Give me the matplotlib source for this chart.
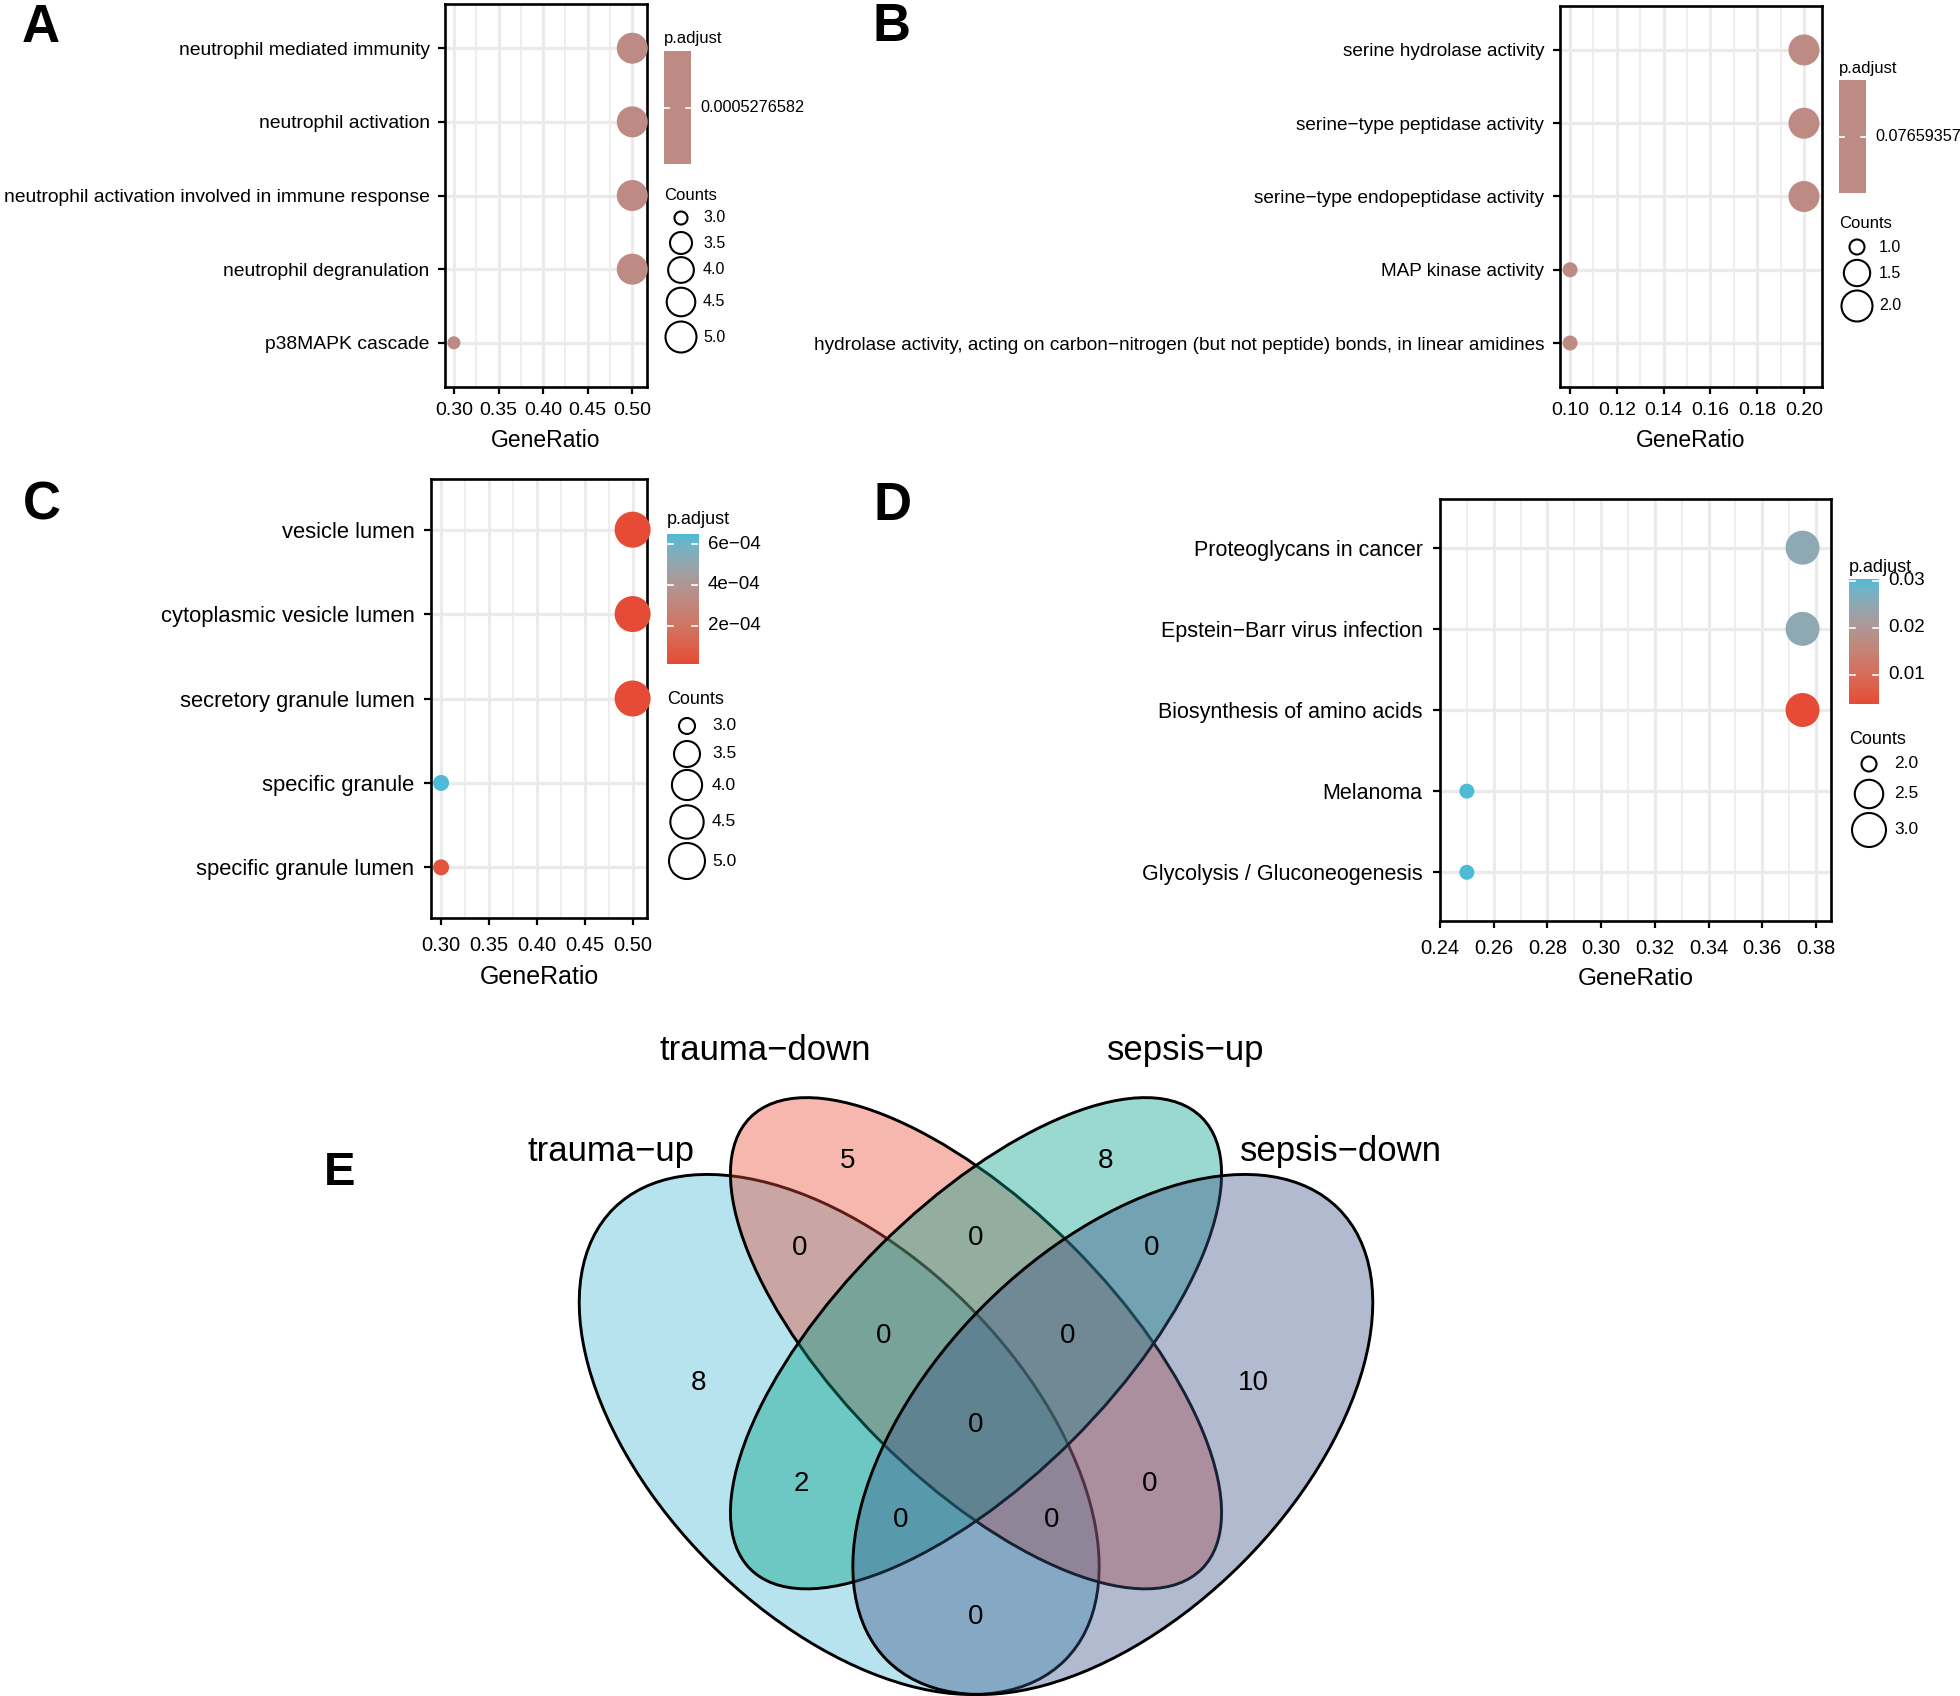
import numpy as np
import matplotlib
matplotlib.use("Agg")
import matplotlib.pyplot as plt
from matplotlib.patches import Ellipse, Rectangle
from matplotlib.colors import ListedColormap, to_rgb

plt.rcParams['font.family'] = ['Liberation Sans', 'DejaVu Sans']

W, H = 1960, 1696
DPI = 100
MINUS = "\u2212"

# ---------------- data ----------------
a_terms = ["neutrophil mediated immunity", "neutrophil activation",
           "neutrophil activation involved in immune response",
           "neutrophil degranulation", "p38MAPK cascade"]
a_ratio = [0.5, 0.5, 0.5, 0.5, 0.3]
a_count = [5, 5, 5, 5, 3]
a_padj = [0.0005276582] * 5

b_terms = ["serine hydrolase activity", "serine" + MINUS + "type peptidase activity",
           "serine" + MINUS + "type endopeptidase activity", "MAP kinase activity",
           "hydrolase activity, acting on carbon" + MINUS + "nitrogen (but not peptide) bonds, in linear amidines"]
b_ratio = [0.2, 0.2, 0.2, 0.1, 0.1]
b_count = [2, 2, 2, 1, 1]
b_padj = [0.07659357] * 5

c_terms = ["vesicle lumen", "cytoplasmic vesicle lumen", "secretory granule lumen",
           "specific granule", "specific granule lumen"]
c_ratio = [0.5, 0.5, 0.5, 0.3, 0.3]
c_count = [5, 5, 5, 3, 3]
c_padj = [1.2e-5, 1.2e-5, 1.3e-5, 6.5e-4, 4.5e-5]

d_terms = ["Proteoglycans in cancer", "Epstein" + MINUS + "Barr virus infection",
           "Biosynthesis of amino acids", "Melanoma", "Glycolysis / Gluconeogenesis"]
d_ratio = [0.375, 0.375, 0.375, 0.25, 0.25]
d_count = [3, 3, 3, 2, 2]
d_padj = [0.0252, 0.0252, 0.0038, 0.0304, 0.0304]

venn_sets = ["trauma" + MINUS + "up", "trauma" + MINUS + "down",
             "sepsis" + MINUS + "up", "sepsis" + MINUS + "down"]
venn_colors = ["#4DBBD5", "#E64B35", "#00A087", "#3C5488"]
# region counts, same order as venn_label_pos
venn_counts = [5, 8, 8, 10, 0, 0, 0, 0, 0, 0, 2, 0, 0, 0, 0]

# ---------------- colour scale (Lab interpolation like ggplot) ----------------
M = np.array([[0.4124564, 0.3575761, 0.1804375],
              [0.2126729, 0.7151522, 0.0721750],
              [0.0193339, 0.1191920, 0.9503041]])
WHITE = np.array([0.95047, 1.0, 1.08883])


def to_lab(c):
    c = np.asarray(to_rgb(c))
    lin = np.where(c <= 0.04045, c / 12.92, ((c + 0.055) / 1.055) ** 2.4)
    xyz = M @ lin / WHITE
    f = np.where(xyz > 0.008856, np.cbrt(xyz), 7.787 * xyz + 16 / 116)
    return np.array([116 * f[1] - 16, 500 * (f[0] - f[1]), 200 * (f[1] - f[2])])


def from_lab(lab):
    L, a, b = lab
    fy = (L + 16) / 116
    f = np.array([fy + a / 500, fy, fy - b / 200])
    xyz = np.where(f ** 3 > 0.008856, f ** 3, (f - 16 / 116) / 7.787) * WHITE
    lin = np.linalg.inv(M) @ xyz
    lin = np.clip(lin, 0, None)
    c = np.where(lin <= 0.0031308, 12.92 * lin, 1.055 * lin ** (1 / 2.4) - 0.055)
    return np.clip(c, 0, 1)


lo, hi = to_lab("#E64B35"), to_lab("#4DBBD5")
cmap = ListedColormap([from_lab(lo + t * (hi - lo)) for t in np.linspace(0, 1, 256)])

fig = plt.figure(figsize=(W / DPI, H / DPI), dpi=DPI)
over = fig.add_axes([0, 0, 1, 1])
over.set_xlim(0, W)
over.set_ylim(H, 0)
over.axis('off')
over.set_zorder(5)


def px2pt(d):
    return d * 72.0 / DPI


def size_of(v, vmin, vmax, dmin, dmax):
    t = 0.0 if vmax == vmin else (np.asarray(v, float) - vmin) / (vmax - vmin)
    d = dmin + np.sqrt(t) * (dmax - dmin)
    return px2pt(d) ** 2


def dotplot(box, terms, ratio, count, padj, xlim, xticks, xminor, dmin, dmax,
            fs_y, fs_x, fs_lab, pads, leg, size_breaks, cbar_ticks, cbar_labels):
    l, t, r, b = box
    ypad, xpad, lpad = pads
    ax = fig.add_axes([l / W, 1 - b / H, (r - l) / W, (b - t) / H])
    n = len(terms)
    y = np.arange(n)[::-1]
    ax.set_xlim(*xlim)
    ax.set_ylim(-0.6, n - 0.4)
    for xv in xminor:
        ax.axvline(xv, color="#EBEBEB", lw=1.2, zorder=0)
    for xv in xticks:
        ax.axvline(xv, color="#EBEBEB", lw=2.2, zorder=0)
    for yv in y:
        ax.axhline(yv, color="#EBEBEB", lw=2.4, zorder=0)
    vmin, vmax = min(padj), max(padj)
    if vmax == vmin:
        cols = [cmap(0.5)] * n
    else:
        cols = [cmap((p - vmin) / (vmax - vmin)) for p in padj]
    cmin, cmax = min(count), max(count)
    ax.scatter(ratio, y, s=size_of(count, cmin, cmax, dmin, dmax), c=cols,
               linewidths=0, zorder=3, clip_on=False)
    ax.set_yticks(y)
    ax.set_yticklabels(terms, fontsize=fs_y)
    ax.set_xticks(xticks)
    ax.set_xticklabels(["%.2f" % v for v in xticks], fontsize=fs_x)
    ax.set_xlabel("GeneRatio", fontsize=fs_lab, labelpad=lpad)
    ax.tick_params(length=5, width=1.6, colors="black")
    ax.tick_params(axis="y", pad=ypad)
    ax.tick_params(axis="x", pad=xpad)
    for s in ax.spines.values():
        s.set_linewidth(1.9)

    # legend: colour bar
    lx, ty, cbw, cbt, cbb, cx, ct, cys, lab_dx, fs_leg = leg
    over.text(lx, ty, "p.adjust", fontsize=fs_leg, ha="left", va="center")
    cax = fig.add_axes([lx / W, 1 - cbb / H, cbw / W, (cbb - cbt) / H])
    cax.axis('off')
    if vmax == vmin:
        cax.add_patch(Rectangle((0, 0), 1, 1, color=cmap(0.5)))
        cax.set_xlim(0, 1)
        cax.set_ylim(0, 1)
        cax.plot([0, 0.2], [0.5, 0.5], color="white", lw=1.2)
        cax.plot([0.8, 1], [0.5, 0.5], color="white", lw=1.2)
        over.text(lx + cbw + lab_dx, (cbt + cbb) / 2, cbar_labels[0],
                  fontsize=fs_leg - 0.3, ha="left", va="center")
    else:
        grad = np.linspace(vmin, vmax, 256).reshape(-1, 1)
        cax.imshow(grad, cmap=cmap, aspect="auto", origin="lower",
                   extent=[0, 1, vmin, vmax])
        cax.set_xlim(0, 1)
        cax.set_ylim(vmin, vmax)
        for tv, tl in zip(cbar_ticks, cbar_labels):
            cax.plot([0, 0.2], [tv, tv], color="white", lw=1.2)
            cax.plot([0.8, 1], [tv, tv], color="white", lw=1.2)
            ypx = cbb - (tv - vmin) / (vmax - vmin) * (cbb - cbt)
            over.text(lx + cbw + lab_dx, ypx, tl, fontsize=fs_leg + 0.5,
                      ha="left", va="center")

    # legend: counts
    over.text(lx, ct, "Counts", fontsize=fs_leg, ha="left", va="center")
    over.scatter([cx] * len(size_breaks), cys,
                 s=size_of(size_breaks, cmin, cmax, dmin, dmax),
                 facecolors="none", edgecolors="black", linewidths=1.5)
    for v, yy in zip(size_breaks, cys):
        over.text(cx + 22 if dmax < 33 else cx + 25, yy, "%.1f" % v,
                  fontsize=fs_leg - 0.5, ha="left", va="center")
    return ax


dotplot((445, 4, 647, 387), a_terms, a_ratio, a_count, a_padj,
        (0.29, 0.5165), [0.30, 0.35, 0.40, 0.45, 0.50],
        [0.325, 0.375, 0.425, 0.475], 13, 31, 13.85, 14, 16.5, (6, 6, 7),
        (664, 38, 27, 51, 164, 681, 195, [218, 243, 270, 302, 337], 9, 12),
        [3.0, 3.5, 4.0, 4.5, 5.0], None, ["0.0005276582"])

dotplot((1560, 6, 1822, 387), b_terms, b_ratio, b_count, b_padj,
        (0.0957, 0.2077), [0.10, 0.12, 0.14, 0.16, 0.18, 0.20],
        [0.11, 0.13, 0.15, 0.17, 0.19], 15, 31, 13.7, 14, 16.5, (6.5, 6, 7),
        (1839, 68, 27, 80, 193, 1857, 223, [247, 273, 306], 9, 12),
        [1.0, 1.5, 2.0], None, ["0.07659357"])

dotplot((431, 479, 647, 918), c_terms, c_ratio, c_count, c_padj,
        (0.2895, 0.515), [0.30, 0.35, 0.40, 0.45, 0.50],
        [0.325, 0.375, 0.425, 0.475], 16, 36, 15.8, 14.5, 18, (7, 8, 7),
        (667, 520, 31, 534, 664, 687, 700, [726, 754, 785, 822, 861], 10, 13),
        [3.0, 3.5, 4.0, 4.5, 5.0], [2e-4, 4e-4, 6e-4],
        ["2e" + MINUS + "04", "4e" + MINUS + "04", "6e" + MINUS + "04"])

dotplot((1440, 499, 1831, 921), d_terms, d_ratio, d_count, d_padj,
        (0.24, 0.3856), [0.24, 0.26, 0.28, 0.30, 0.32, 0.34, 0.36, 0.38],
        [0.25, 0.27, 0.29, 0.31, 0.33, 0.35, 0.37], 15, 34, 15.5, 14.5, 17.5, (7.5, 8, 7),
        (1849, 567, 30, 579, 704, 1869, 740, [764, 794, 830], 9, 13),
        [2.0, 2.5, 3.0], [0.01, 0.02, 0.03], ["0.01", "0.02", "0.03"])

# panel letters
for letter, x, y, fs in [("A", 41, 28, 38), ("B", 891, 27, 38), ("C", 42, 506, 38),
                         ("D", 892, 506, 38), ("E", 340, 1173, 34)]:
    over.text(x, y, letter, fontsize=fs, fontweight="bold", ha="center", va="center")

# ---------------- Venn diagram ----------------
vax = fig.add_axes([520 / W, -3 / H, 912 / W, (1695.4 - 993) / H])
vax.set_xlim(0, 1)
vax.set_ylim(0.18, 0.95)
vax.axis('off')

ell_x = [0.35, 0.50, 0.50, 0.65]
ell_y = [0.47, 0.57, 0.57, 0.47]
ell_a = [0.35, 0.35, 0.35, 0.35]
ell_b = [0.20, 0.15, 0.15, 0.20]
ell_rot = [-45, -45, 45, 45]
for i in range(4):
    fc = to_rgb(venn_colors[i]) + (0.4,)
    vax.add_patch(Ellipse((ell_x[i], ell_y[i]), 2 * ell_a[i], 2 * ell_b[i],
                          angle=ell_rot[i], facecolor=fc, edgecolor="black",
                          lw=2.1, clip_on=False))

venn_label_pos = [(0.359, 0.770), (0.642, 0.770), (0.196, 0.526), (0.804, 0.526),
                  (0.307, 0.674), (0.500, 0.685), (0.693, 0.674),
                  (0.399, 0.578), (0.600, 0.578), (0.500, 0.480),
                  (0.308, 0.416), (0.690, 0.416), (0.417, 0.376),
                  (0.583, 0.376), (0.500, 0.270)]
for (x, y), v in zip(venn_label_pos, venn_counts):
    vax.text(x, y, str(v), fontsize=20, ha="center", va="center")

set_label_pos = [(0.10, 0.780), (0.269, 0.891), (0.730, 0.891), (0.900, 0.780)]
for (x, y), name in zip(set_label_pos, venn_sets):
    vax.text(x, y, name, fontsize=25, ha="center", va="center")

fig.savefig("out.png", dpi=DPI)
